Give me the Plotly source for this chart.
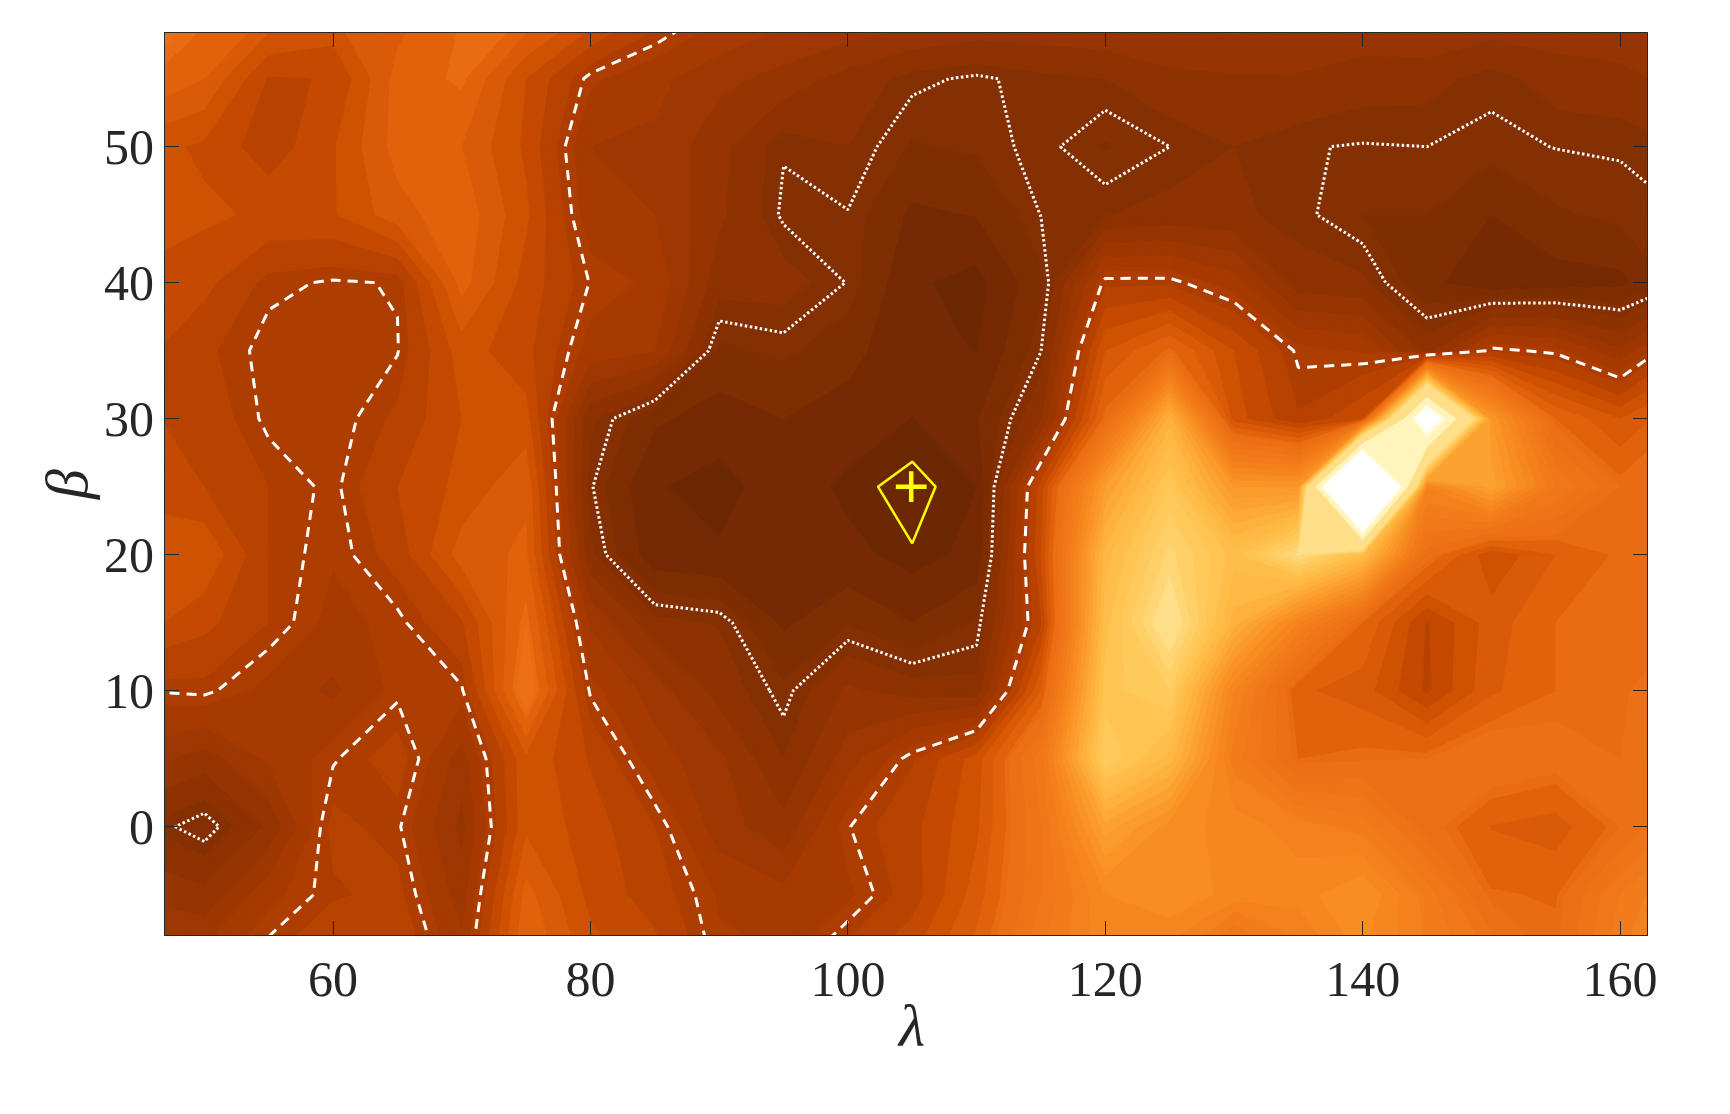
import plotly.graph_objects as go

# grid of the scan
lambda_vals = [45, 50, 55, 60, 65, 70, 75, 80, 85, 90, 95, 100, 105, 110, 115, 120, 125, 130, 135, 140, 145, 150, 155, 160, 165]
beta_vals = [-10, -5, 0, 5, 10, 15, 20, 25, 30, 35, 40, 45, 50, 55, 60]

# values per beta row
beta_m10 = [7, 6.5, 8, 9.5, 9, 6.5, 13.2, 10.5, 9.5, 7.2, 7, 8.6, 10, 12.5, 16.7, 19.5, 17.8, 13, 16.7, 20, 17.8, 15.6, 13.4, 17.8, 20]
beta_m5 = [4.8, 4.3, 6.7, 7.85, 8.3, 5.5, 12.4, 9.7, 8.5, 6.9, 6.3, 6.8, 8.5, 11.5, 15.6, 20, 21.1, 19.5, 19.5, 21.1, 17.3, 13.1, 12.9, 16.7, 19.5]
beta_0 = [3.1, 2, 4.2, 8.3, 7.65, 4.7, 10.8, 9.5, 8, 5.5, 4.3, 7.45, 8.7, 10.8, 15.6, 23.9, 20.6, 19.5, 18.4, 17.3, 13.9, 11.95, 11.5, 13.4, 16.2]
beta_5 = [5.5, 4.5, 6.2, 7.4, 8.5, 5.5, 10.8, 8.9, 6.5, 5.2, 3, 5.5, 7.9, 10.5, 16.2, 31, 27.2, 17.3, 13, 13.3, 13.4, 14.5, 13.9, 13.4, 16.2]
beta_10 = [7.52, 7.7, 6.7, 5.8, 7.3, 7.38, 14.5, 7.35, 5.5, 3.6, 2.2, 4.2, 3.5, 3.3, 12, 29.4, 31, 18.9, 12.2, 11.5, 8.8, 11.8, 13, 13.3, 14]
beta_15 = [10.4, 9.3, 8, 6.7, 7.27, 8.9, 13.4, 5.84, 3.3, 2.94, 0.8, 1.9, 1, 2.1, 8.85, 28.3, 35, 26.1, 18.9, 13, 8.9, 11.5, 13, 13.3, 13.4]
beta_20 = [11, 10.9, 8, 7.1, 8.4, 11.5, 12.2, 3.2, 0.3, 0.05, 0.4, 0.2, -0.5, 0.2, 10, 27.2, 32.5, 28.3, 33.5, 28, 13.9, 10.2, 12, 13.2, 13.3]
beta_25 = [9.5, 9, 8, 7.3, 9, 10.3, 11.8, 2.6, 0, -0.5, 0.5, -0.33, -0.8, -0.11, 9.5, 23.3, 30, 22.2, 22, 106, 19, 23.9, 16.7, 13.4, 13.3]
beta_30 = [9.2, 8.6, 7.3, 7.1, 8.2, 10, 10.4, 3.2, 1.2, 0.45, 1, 0.5, -0.12, 0.9, 3.9, 13.4, 26.1, 10.5, 8.1, 10, 64, 22.2, 13, 11, 13]
beta_35 = [9.3, 8.2, 7.2, 7.1, 7.45, 10.5, 9.3, 6.6, 6.05, 1.8, 2.18, 1.4, 0.1, -0.12, 2.48, 11, 13.2, 10, 7.3, 6.9, 3.6, 7.8, 7.25, 5.17, 9]
beta_40 = [9.8, 9.3, 7.7, 7.4, 7.55, 12.4, 9.6, 7.45, 6.8, 3.4, 3.4, 2.46, 0.07, -0.5, 1.78, 7.8, 7.8, 6.5, 3.4, 3.17, 1.3, 0.2, 0.5, 0.72, 2.5]
beta_45 = [10.5, 10.2, 9.8, 9.9, 11.6, 12.7, 10.2, 6.4, 6, 4.2, 2.35, 2.46, 0.8, 1.05, 2.52, 2.96, 3.3, 3.2, 2.7, 2, 2, 1, 1.9, 2.2, 2.5]
beta_50 = [10.5, 9.8, 8.4, 9.9, 12.4, 12, 9.8, 6, 5.8, 4.3, 2.56, 3, 1.9, 2.15, 2.75, 1.92, 2.5, 3, 2.55, 2.45, 2.5, 2.32, 2.52, 2.58, 3]
beta_55 = [13.2, 12, 8.9, 9.05, 12.4, 13.2, 10, 7.2, 6.3, 5.3, 4.6, 3.6, 2.7, 2.35, 2.8, 3, 3.7, 3.9, 3.9, 3.4, 3.3, 2.67, 3.4, 3.6, 4.5]
beta_60 = [15, 13.3, 12, 11, 11.5, 13, 13, 11, 8.7, 7.3, 6.5, 6.2, 5.7, 5.3, 5.2, 5.4, 5.5, 5.6, 5.2, 5.2, 5.6, 5, 5, 5.3, 6]

z_vals = [beta_m10, beta_m5, beta_0, beta_5, beta_10, beta_15, beta_20, beta_25, beta_30, beta_35, beta_40, beta_45, beta_50, beta_55, beta_60]

# lower edge of each filled band and its colour
band_edges = [-2, -0.1, 1, 2, 3, 4, 5, 6, 7, 8, 9, 10, 11, 12, 13,
              13.4, 14.5, 15.6, 16.7, 17.8, 18.9, 20, 21.1, 22.2, 23.3, 24.4, 25.5, 26.6, 27.7, 28.8, 29.9, 31, 32.1,
              33.2, 45, 52, 55]
band_colors = ["#6b2803", "#762a03", "#7e2e02", "#853002", "#8e3202", "#963502", "#9e3701", "#a63a00", "#ae3d00", "#b84200",
               "#c44a00", "#cf5203", "#d95a08", "#e2620c", "#e96c12",
               "#ec7015", "#ee7417", "#f07819", "#f27c1b", "#f4811d", "#f6871f", "#f88d22", "#fa9426", "#fb9b2c", "#fca232",
               "#fdaa38", "#feb13e", "#ffb844", "#ffbe4a", "#ffc452", "#ffca5c", "#ffd068", "#ffd676",
               "#ffdf8a", "#fff4bb", "#fffbe0", "#ffffff"]

# contour levels drawn as lines
level_yellow = -0.55
level_dotted = 2.5
level_dashed = 7.5

best_lambda = 104.92
best_beta = 25

level_start = -2
level_end = 60
level_size = 0.1

# stepped colorscale so the fine levels group into the bands above
span = level_end - level_start + level_size
colorscale = []
for i, edge in enumerate(band_edges):
    pos = 0 if i == 0 else (edge - level_start + level_size / 2) / span
    colorscale.append([pos, band_colors[i]])
    top = 1 if i == len(band_edges) - 1 else (band_edges[i + 1] - level_start + level_size / 2) / span
    colorscale.append([top, band_colors[i]])

fig = go.Figure()
fig.add_trace(go.Contour(
    x=lambda_vals, y=beta_vals, z=z_vals,
    autocontour=False,
    contours=dict(start=level_start, end=level_end, size=level_size, coloring="fill"),
    colorscale=colorscale,
    line=dict(width=0, smoothing=0),
    showscale=False,
    hoverinfo="skip",
))


def line_contour(level, color, width, dash):
    return go.Contour(
        x=lambda_vals, y=beta_vals, z=z_vals,
        autocontour=False,
        contours=dict(start=level, end=level, size=1, coloring="none"),
        line=dict(color=color, width=width, dash=dash, smoothing=0),
        showscale=False,
        hoverinfo="skip",
    )


fig.add_trace(line_contour(level_dashed, "white", 3, "10px,7px"))
fig.add_trace(line_contour(level_dotted, "white", 3, "2.5px,2.5px"))
fig.add_trace(line_contour(level_yellow, "#ffff00", 2.5, "solid"))
fig.add_trace(go.Scatter(
    x=[best_lambda], y=[best_beta], mode="markers",
    marker=dict(symbol="cross-thin", size=22, line=dict(color="#ffff00", width=4.5)),
    showlegend=False, hoverinfo="skip",
))

axis_font = dict(family="Liberation Serif", size=50, color="#262626")
axis_style = dict(
    showgrid=False, zeroline=False, showline=True, mirror="ticks",
    linecolor="#262626", linewidth=1,
    ticks="inside", ticklen=14, tickwidth=1, tickcolor="#262626",
    tickfont=axis_font,
)
title_font = dict(family="Liberation Serif", size=60, color="#262626")

# the page body adds 8px round the figure
fig.update_layout(
    width=1714, height=1098,
    margin=dict(l=156.5, r=74.7, t=25.3, b=171.4),
    paper_bgcolor="white", plot_bgcolor="white",
    showlegend=False,
    xaxis=dict(range=[46.94, 162.09], tickvals=[60, 80, 100, 120, 140, 160], **axis_style),
    yaxis=dict(range=[-7.96, 58.36], tickvals=[0, 10, 20, 30, 40, 50], **axis_style),
    annotations=[
        dict(text="<i>λ</i>", xref="paper", yref="paper", x=0.5035, y=0, yshift=-91,
             xanchor="center", yanchor="middle", showarrow=False, font=title_font),
        dict(text="<i>β</i>", xref="paper", yref="paper", x=0, y=0.499, xshift=-98, textangle=-90,
             xanchor="center", yanchor="middle", showarrow=False, font=title_font),
    ],
)

fig.write_html("out.html")
